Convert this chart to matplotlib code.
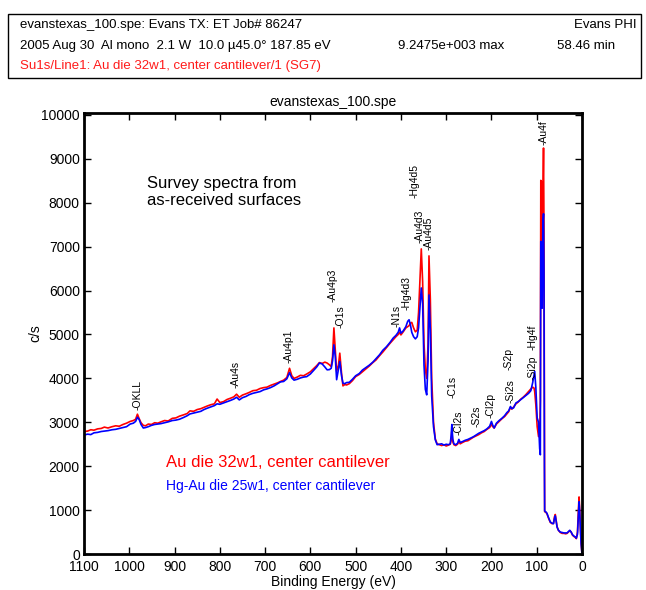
import numpy as np
import matplotlib
matplotlib.use('Agg')
import matplotlib.pyplot as plt
from matplotlib.patches import Rectangle

plt.rcParams['font.family'] = ['Liberation Sans', 'DejaVu Sans']

# survey spectra: binding energy (eV) and counts/s for both samples
binding_energy = [
    1100, 1092, 1085, 1078, 1070, 1062, 1055, 1047, 1038, 1030, 1022, 1014,
    1006, 998, 991, 986, 982, 978, 974, 969, 964, 958, 951, 944, 937, 930,
    922, 914, 905, 897, 889, 880, 872, 866, 858, 850, 842, 835, 828, 820,
    812, 806, 800, 792, 784, 776, 769, 763, 757, 750, 742, 735, 727, 719,
    711, 703, 696, 688, 680, 672, 666, 659, 652, 646, 641, 636, 629, 622,
    615, 608, 600, 593, 586, 580, 574, 568, 563, 558, 554, 551, 548, 545,
    542, 538, 535, 531, 528, 524, 520, 514, 507, 500, 492, 485, 478, 470,
    462, 455, 447, 440, 432, 424, 417, 411, 406, 403, 400, 395, 389, 385,
    382, 379, 376, 372, 368, 364, 361, 358, 355, 352, 349, 346, 343, 340,
    338, 335, 332, 328, 324, 320, 315, 310, 305, 300, 295, 291, 289, 287.5,
    285.5, 283, 279, 275, 272, 269, 264, 258, 252, 246, 240, 234, 228, 222,
    216, 210, 204, 200, 197, 194, 189, 183, 177, 171, 166, 162, 158, 155,
    151, 146, 141, 136, 130, 124, 118, 113, 109, 106, 104.5, 102, 99, 96,
    93.5, 92, 91, 89.5, 88, 86.5, 85, 84, 83, 82.5, 80, 77.5, 74, 70, 66,
    63, 61, 59, 57, 55, 52, 48, 44, 40, 36, 33, 30, 27, 24, 21, 18, 15,
    12.5, 10, 8, 6.5, 5, 3.5, 2, 0.5, 0,
]
au_die_32w1 = [
    2790, 2800, 2830, 2820, 2850, 2860, 2890, 2870, 2900, 2920, 2910, 2950,
    2980, 3020, 3040, 3070, 3185, 3080, 2990, 2930, 2920, 2960, 2950, 2990, 2980, 3010,
    3040, 3030, 3090, 3100, 3140, 3170, 3200, 3260, 3250, 3290, 3310, 3340, 3370, 3400,
    3420, 3530, 3450, 3470, 3520, 3550, 3580, 3640, 3570, 3620, 3650, 3680, 3720, 3730,
    3770, 3790, 3800, 3840, 3870, 3900, 3930, 3960, 4020, 4230, 4060, 4000, 4030, 4070,
    4060, 4100, 4150, 4220, 4290, 4360, 4340, 4370, 4350, 4310, 4270, 4500, 5150, 4650,
    4160, 4300, 4575, 4100, 3830, 3860, 3850, 3880, 3950, 4040, 4090, 4150, 4210, 4280,
    4360, 4420, 4520, 4600, 4700, 4800, 4880, 4950, 5000, 5050, 4990, 5060, 5150, 5180,
    5200, 5260, 5275, 5150, 5060, 5100, 5500, 6200, 6950, 6200, 4800, 4200, 4000, 4800,
    6790, 5800, 4000, 3000, 2620, 2510, 2490, 2470, 2490, 2460, 2480, 2500, 2600, 2800,
    2560, 2490, 2470, 2500, 2560, 2510, 2540, 2570, 2580, 2620, 2660, 2690, 2720, 2760,
    2790, 2840, 2880, 2950, 2900, 2870, 2960, 3020, 3080, 3130, 3190, 3240, 3340, 3300,
    3350, 3420, 3460, 3520, 3570, 3630, 3700, 3760, 3800, 3780, 3700, 3400, 2900, 2675,
    2700, 3500, 8510, 8480, 5900, 8000, 9247, 7500, 2500, 965, 950, 920, 820, 720, 690,
    700, 840, 900, 760, 620, 540, 490, 470, 470, 460, 470, 500, 530, 500, 430, 400, 380,
    350, 500, 1000, 1300, 1000, 600, 250, 60, 0,
]
hg_au_die_25w1 = [
    2710, 2730, 2720, 2760, 2770, 2790, 2800, 2810, 2830, 2840, 2860, 2880,
    2900, 2960, 2980, 3020, 3115, 3060, 2950, 2870, 2880, 2900, 2930, 2950, 2960, 2970,
    2990, 3010, 3040, 3050, 3070, 3110, 3150, 3190, 3210, 3230, 3250, 3290, 3320, 3350,
    3380, 3420, 3410, 3440, 3470, 3500, 3530, 3570, 3510, 3560, 3590, 3630, 3660, 3680,
    3700, 3740, 3760, 3790, 3830, 3880, 3920, 3930, 3990, 4130, 4010, 3960, 3980, 4010,
    4030, 4040, 4100, 4180, 4260, 4350, 4330, 4260, 4195, 4200, 4230, 4400, 4765, 4500,
    3970, 4200, 4385, 4050, 3890, 3880, 3905, 3910, 3980, 4060, 4110, 4190, 4240, 4300,
    4370, 4450, 4540, 4640, 4720, 4820, 4920, 4980, 5050, 5150, 5030, 5080, 5180, 5300,
    5335, 5220, 5050, 4950, 4900, 4950, 5150, 5600, 6060, 5700, 4300, 3750, 3625, 4400,
    5900, 5100, 3600, 2900, 2600, 2490, 2500, 2510, 2480, 2500, 2490, 2510, 2700, 2950,
    2620, 2510, 2490, 2520, 2610, 2540, 2560, 2590, 2610, 2640, 2670, 2710, 2750, 2780,
    2810, 2850, 2910, 3020, 2930, 2870, 2980, 3040, 3090, 3150, 3220, 3260, 3360, 3310,
    3330, 3440, 3470, 3510, 3560, 3610, 3660, 3720, 3900, 4080, 4160, 3800, 3100, 3000,
    2400, 2260, 7120, 7050, 5600, 7500, 7750, 6500, 2000, 980, 960, 930, 830, 730, 700,
    690, 800, 870, 740, 610, 540, 500, 490, 480, 480, 480, 510, 540, 500, 440, 410, 390,
    360, 450, 900, 1190, 950, 550, 230, 60, 0,
]

# element markers: (label, energy, height of label foot)
peak_labels = ['OKLL', 'Au4s', 'Au4p1', 'Au4p3', 'O1s', 'N1s', 'Hg4d3', 'Hg4d5',
               'Au4d3', 'Au4d5', 'C1s', 'Cl2s', 'S2s', 'Cl2p', 'S2p', 'Si2s',
               'Si2p', 'Hg4f', 'Au4f']
peak_energy = [982, 765, 648, 550, 533, 409, 387, 369, 358, 339, 287, 272, 232,
               201, 163, 157, 109, 109, 85]
peak_label_y = [3280, 3785, 4355, 5745, 5150, 5175, 5560, 8115, 7090, 6930,
                3555, 2710, 2895, 3100, 4195, 3440, 3970, 4650, 9325]

x_ticks = list(range(0, 1200, 100))
y_ticks = list(range(0, 11000, 1000))

fig = plt.figure(figsize=(6.46, 5.90), dpi=100)

# header box with acquisition details
fig.patches.append(Rectangle((8 / 646, 1 - 78 / 590), 633 / 646, 64 / 590,
                             transform=fig.transFigure, fill=False,
                             edgecolor='black', linewidth=1.0))
fig.text(20 / 646, 1 - 25 / 590, 'evanstexas_100.spe: Evans TX: ET Job# 86247',
         fontsize=9.5, va='center')
fig.text(637 / 646, 1 - 25 / 590, 'Evans PHI', fontsize=9.5, va='center', ha='right')
fig.text(20 / 646, 1 - 46 / 590,
         '2005 Aug 30  Al mono  2.1 W  10.0 \u00b545.0\u00b0 187.85 eV',
         fontsize=9.5, va='center')
fig.text(398 / 646, 1 - 46 / 590, '9.2475e+003 max', fontsize=9.5, va='center')
fig.text(557 / 646, 1 - 46 / 590, '58.46 min', fontsize=9.5, va='center')
fig.text(20 / 646, 1 - 66 / 590, 'Su1s/Line1: Au die 32w1, center cantilever/1 (SG7)',
         fontsize=9.5, va='center', color='#ff1a1a')

ax = fig.add_axes([84 / 646, 36 / 590, 498 / 646, 441 / 590])
ax.plot(binding_energy, au_die_32w1, color='#ff0000', linewidth=1.2)
ax.plot(binding_energy, hg_au_die_25w1, color='#0000ff', linewidth=1.2)

for name, be, yl in zip(peak_labels, peak_energy, peak_label_y):
    ax.text(be, yl, '-' + name, rotation=90, ha='center', va='bottom', fontsize=7.5)

ax.text(960, 8345, 'Survey spectra from', fontsize=12, va='baseline')
ax.text(960, 7957, 'as-received surfaces', fontsize=12, va='baseline')
ax.text(918, 1985, 'Au die 32w1, center cantilever', fontsize=12,
        color='#ff0000', va='baseline')
ax.text(918, 1460, 'Hg-Au die 25w1, center cantilever', fontsize=10,
        color='#0000ff', va='baseline')

ax.set_xlim(1100, 0)
ax.set_ylim(0, 10045)
ax.set_xticks(x_ticks)
ax.set_yticks(y_ticks)
ax.tick_params(direction='in', top=True, right=True, length=5, width=1,
               labelsize=10)
ax.tick_params(axis='x', pad=4)
ax.tick_params(axis='y', pad=3)
for s in ax.spines.values():
    s.set_linewidth(2)

ax.set_title('evanstexas_100.spe', fontsize=10, pad=5)
ax.set_xlabel('Binding Energy (eV)', fontsize=10, labelpad=1)
ax.set_ylabel('c/s', fontsize=10, labelpad=-1)

fig.savefig('out.png', dpi=100)
